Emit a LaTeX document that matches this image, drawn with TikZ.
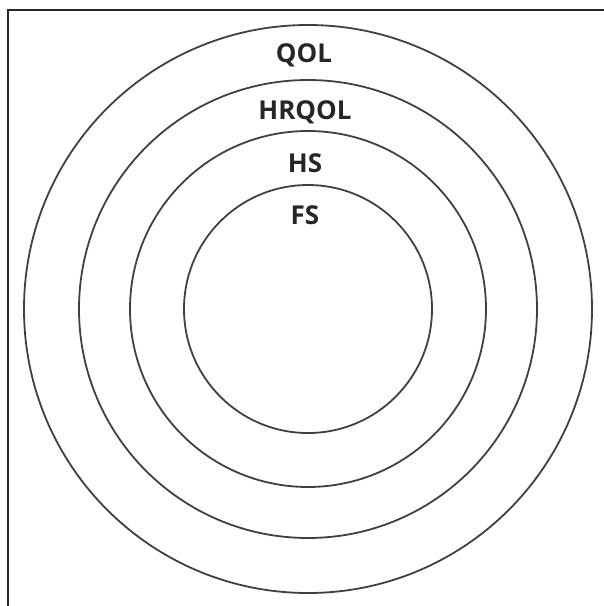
\documentclass[tikz,border=0pt]{standalone}
\usepackage{fontspec}
\setmainfont{Open Sans}
\begin{document}
\begin{tikzpicture}[x=1pt,y=-1pt,
  ring/.style={draw=black!75,line width=1.8pt},
  lbl/.style={font=\fontsize{26}{30}\selectfont\bfseries,text=black!85,inner sep=0pt,anchor=center},
  frame/.style={draw=black!85,line width=1.8pt}]
\useasboundingbox (0,0) rectangle (604,606);
\coordinate (c) at (308,309);
\draw[frame] (8,606) -- (8,10) -- (604,10);
\node[ring,circle,minimum size=568pt,inner sep=0pt] (qol) at (c) {};
\node[ring,circle,minimum size=458pt,inner sep=0pt] (hrqol) at (c) {};
\node[ring,circle,minimum size=356pt,inner sep=0pt] (hs) at (c) {};
\node[ring,circle,minimum size=248pt,inner sep=0pt] (fs) at (c) {};
\node[lbl] (tqol) at (304,55) {QOL};
\node[lbl] (thrqol) at (305,112) {HRQOL};
\node[lbl] (ths) at (305,163) {HS};
\node[lbl] (tfs) at (305,215) {FS};
\end{tikzpicture}
\end{document}
